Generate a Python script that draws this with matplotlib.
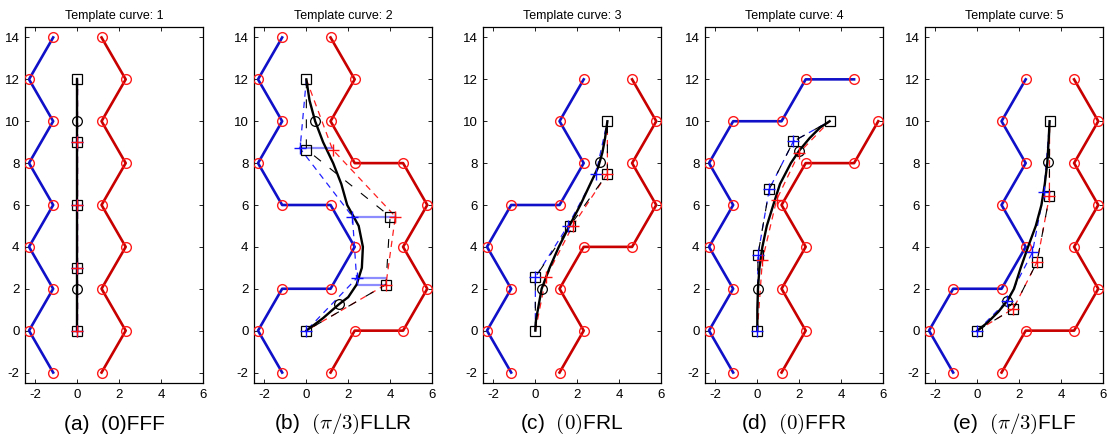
import matplotlib
matplotlib.use("Agg")
import matplotlib.pyplot as plt

plt.rcParams['font.family'] = ['Liberation Sans', 'DejaVu Sans']
plt.rcParams['mathtext.fontset'] = 'cm'
plt.rcParams['axes.unicode_minus'] = False

titles = ["Template curve: 1", "Template curve: 2", "Template curve: 3",
          "Template curve: 4", "Template curve: 5"]
captions = ["(a)  (0)FFF", r"(b)  $(\pi/3)$FLLR", r"(c)  $(0)$FRL",
            r"(d)  $(0)$FFR", r"(e)  $(\pi/3)$FLF"]
xticks = [-2, 0, 2, 4, 6]
yticks = [-2, 0, 2, 4, 6, 8, 10, 12, 14]

# ---- Panel 1 ----
blue1_x = [-1.155, -2.309, -1.155, -2.309, -1.155, -2.309, -1.155, -2.309, -1.155]
blue1_y = [14, 12, 10, 8, 6, 4, 2, 0, -2]
red1_x = [1.155, 2.309, 1.155, 2.309, 1.155, 2.309, 1.155, 2.309, 1.155]
red1_y = [14, 12, 10, 8, 6, 4, 2, 0, -2]
curve1_x = [0, 0, 0, 0, 0]
curve1_y = [0, 3, 6, 9, 12]
sq1_x = [0, 0, 0, 0, 0]
sq1_y = [0, 3, 6, 9, 12]
circ1_x = [0, 0]
circ1_y = [2, 10]
bplus1_x = [0, 0, 0, 0]
bplus1_y = [0, 3, 6, 9]
rplus1_x = [0, 0, 0, 0]
rplus1_y = [0, 3, 6, 9]
bdash1_x = [0, 0, 0, 0, 0]
bdash1_y = [0, 3, 6, 9, 12]
rdash1_x = [0, 0, 0, 0, 0]
rdash1_y = [0, 3, 6, 9, 12]

# ---- Panel 2 ----
blue2_x = [-1.155, -2.309, -1.155, -2.309, -1.155, 1.155, 2.309, 1.155, -1.155, -2.309, -1.155]
blue2_y = [14, 12, 10, 8, 6, 6, 4, 2, 2, 0, -2]
red2_x = [1.155, 2.309, 1.155, 2.309, 4.619, 5.774, 4.619, 5.774, 4.619, 2.309, 1.155]
red2_y = [14, 12, 10, 8, 8, 6, 4, 2, 0, 0, -2]
curve2_x = [0, 0.15, 0.42, 0.8, 1.28, 1.67, 1.95, 2.5, 2.7, 2.65, 2.4, 2.0, 1.57, 0.8, 0]
curve2_y = [12, 11, 10, 9, 8, 7, 6, 5, 4, 3, 2.2, 1.6, 1.27, 0.6, 0]
sq2_x = [0, 0, 4.0, 3.8, 0]
sq2_y = [12, 8.65, 5.45, 2.2, 0]
circ2_x = [0.42, 1.57]
circ2_y = [10, 1.27]
bplus2_x = [-0.3, 2.2, 2.4, 0]
bplus2_y = [8.7, 5.45, 2.5, 0]
rplus2_x = [1.25, 4.25, 3.8]
rplus2_y = [8.65, 5.45, 2.2]
bdash2_x = [0, -0.3, 2.2, 2.4, 0]
bdash2_y = [12, 8.7, 5.45, 2.5, 0]
rdash2_x = [0, 1.25, 4.25, 3.8, 0]
rdash2_y = [12, 8.65, 5.45, 2.2, 0]
hseg2_x0 = [-0.3, 2.2, 2.4, 2.4]
hseg2_x1 = [1.25, 4.25, 3.8, 3.8]
hseg2_y = [8.7, 5.45, 2.5, 2.2]

# ---- Panel 3 ----
blue3_x = [2.309, 1.155, 2.309, 1.155, -1.155, -2.309, -1.155, -2.309, -1.155]
blue3_y = [12, 10, 8, 6, 6, 4, 2, 0, -2]
red3_x = [4.619, 5.774, 4.619, 5.774, 4.619, 2.309, 1.155, 2.309, 1.155]
red3_y = [12, 10, 8, 6, 4, 4, 2, 0, -2]
curve3_x = [0, 0.03, 0.12, 0.3, 0.68, 1.12, 1.62, 2.15, 2.62, 3.0, 3.2, 3.33, 3.44]
curve3_y = [0, 0.5, 1.0, 2.0, 3.0, 4.0, 5.0, 6.0, 7.0, 7.8, 8.5, 9.2, 10]
sq3_x = [0, 0, 1.65, 3.44, 3.44]
sq3_y = [0, 2.55, 5.0, 7.5, 10]
circ3_x = [0.3, 3.08]
circ3_y = [2.0, 8.05]
bplus3_x = [0, 1.55, 2.89]
bplus3_y = [2.55, 5.0, 7.5]
rplus3_x = [0.51, 1.78, 3.44]
rplus3_y = [2.55, 5.0, 7.5]
bdash3_x = [0, 0, 1.55, 2.89, 3.44]
bdash3_y = [0, 2.55, 5.0, 7.5, 10]
rdash3_x = [0, 0.51, 1.78, 3.44, 3.44]
rdash3_y = [0, 2.55, 5.0, 7.5, 10]

# ---- Panel 4 ----
blue4_x = [4.619, 2.309, 1.155, -1.155, -2.309, -1.155, -2.309, -1.155, -2.309, -1.155]
blue4_y = [12, 12, 10, 10, 8, 6, 4, 2, 0, -2]
red4_x = [5.774, 4.619, 2.309, 1.155, 2.309, 1.155, 2.309, 1.155]
red4_y = [10, 8, 8, 6, 4, 2, 0, -2]
curve4_x = [0, 0, 0.03, 0.1, 0.24, 0.45, 0.76, 1.08, 1.6, 2.0, 2.5, 3.0, 3.45]
curve4_y = [0, 1, 2, 3, 4, 5, 6, 7, 8, 8.6, 9.2, 9.7, 10]
sq4_x = [0, 0.03, 0.57, 1.72, 3.45]
sq4_y = [0, 3.63, 6.76, 9.04, 10]
circ4_x = [0.03, 2.0]
circ4_y = [2.0, 8.6]
bplus4_x = [0, 0.03, 0.57, 1.72]
bplus4_y = [0, 3.63, 6.76, 9.04]
rplus4_x = [0.24, 0.92, 2.0]
rplus4_y = [3.36, 6.25, 8.5]
bdash4_x = [0, 0.03, 0.57, 1.72, 3.45]
bdash4_y = [0, 3.63, 6.76, 9.04, 10]
rdash4_x = [0, 0.24, 0.92, 2.0, 3.45]
rdash4_y = [0, 3.36, 6.25, 8.5, 10]

# ---- Panel 5 ----
blue5_x = [2.309, 1.155, 2.309, 1.155, 2.309, 1.155, -1.155, -2.309, -1.155]
blue5_y = [12, 10, 8, 6, 4, 2, 2, 0, -2]
red5_x = [4.619, 5.774, 4.619, 5.774, 4.619, 5.774, 4.619, 2.309, 1.155]
red5_y = [12, 10, 8, 6, 4, 2, 0, 0, -2]
curve5_x = [0, 0.5, 1.0, 1.45, 1.75, 2.07, 2.42, 2.79, 3.06, 3.22, 3.34, 3.4, 3.45]
curve5_y = [0, 0.4, 0.9, 1.45, 2, 3, 4, 5, 6, 7, 8, 9, 10]
sq5_x = [0, 1.72, 2.85, 3.44, 3.45]
sq5_y = [0, 1.05, 3.28, 6.41, 10]
circ5_x = [1.43, 3.37]
circ5_y = [1.43, 8.05]
bplus5_x = [0, 1.43, 2.63, 3.18]
bplus5_y = [0, 1.43, 3.74, 6.63]
rplus5_x = [1.72, 2.85, 3.44]
rplus5_y = [1.05, 3.28, 6.41]
bdash5_x = [0, 1.43, 2.63, 3.18, 3.45]
bdash5_y = [0, 1.43, 3.74, 6.63, 10]
rdash5_x = [0, 1.72, 2.85, 3.44, 3.45]
rdash5_y = [0, 1.05, 3.28, 6.41, 10]

panels = [
    (blue1_x, blue1_y, red1_x, red1_y, curve1_x, curve1_y, sq1_x, sq1_y, circ1_x, circ1_y,
     bplus1_x, bplus1_y, rplus1_x, rplus1_y, bdash1_x, bdash1_y, rdash1_x, rdash1_y),
    (blue2_x, blue2_y, red2_x, red2_y, curve2_x, curve2_y, sq2_x, sq2_y, circ2_x, circ2_y,
     bplus2_x, bplus2_y, rplus2_x, rplus2_y, bdash2_x, bdash2_y, rdash2_x, rdash2_y),
    (blue3_x, blue3_y, red3_x, red3_y, curve3_x, curve3_y, sq3_x, sq3_y, circ3_x, circ3_y,
     bplus3_x, bplus3_y, rplus3_x, rplus3_y, bdash3_x, bdash3_y, rdash3_x, rdash3_y),
    (blue4_x, blue4_y, red4_x, red4_y, curve4_x, curve4_y, sq4_x, sq4_y, circ4_x, circ4_y,
     bplus4_x, bplus4_y, rplus4_x, rplus4_y, bdash4_x, bdash4_y, rdash4_x, rdash4_y),
    (blue5_x, blue5_y, red5_x, red5_y, curve5_x, curve5_y, sq5_x, sq5_y, circ5_x, circ5_y,
     bplus5_x, bplus5_y, rplus5_x, rplus5_y, bdash5_x, bdash5_y, rdash5_x, rdash5_y),
]

W, H = 1109, 438
fig = plt.figure(figsize=(W / 100, H / 100), dpi=100)

lefts = [25, 254, 483, 705, 925]
ax_w, ax_top, ax_bot = 178, 27, 383

BLUE = '#1010c8'
RED = '#c80000'
CIRC = '#ff1a1a'

for i, p in enumerate(panels):
    (bx, by, rx, ry, cx, cy, sx, sy, ox, oy,
     bpx, bpy, rpx, rpy, bdx, bdy, rdx, rdy) = p
    ax = fig.add_axes([lefts[i] / W, 1 - ax_bot / H, ax_w / W, (ax_bot - ax_top) / H])
    ax.plot(bx, by, color=BLUE, lw=1.9, zorder=2)
    ax.plot(rx, ry, color=RED, lw=1.9, zorder=2)
    ax.plot(bx, by, 'o', ms=7, mfc='none', mec=CIRC, mew=1.0, zorder=3)
    ax.plot(rx, ry, 'o', ms=7, mfc='none', mec=CIRC, mew=1.0, zorder=3)
    if i == 1:
        for x0, x1, yy in zip(hseg2_x0, hseg2_x1, hseg2_y):
            ax.plot([x0, x1], [yy, yy], color='#8c8cff', lw=1.6, zorder=3)
    ax.plot(bdx, bdy, color='#2020ff', lw=0.9, dashes=(5, 4), zorder=4)
    ax.plot(rdx, rdy, color='#ff2020', lw=0.9, dashes=(5, 4), zorder=4)
    ax.plot(sx, sy, color='black', lw=0.8, dashes=(8, 10), zorder=4)
    ax.plot(cx, cy, color='black', lw=1.7, zorder=5)
    ax.plot(sx, sy, 's', ms=7, mfc='none', mec='black', mew=0.9, zorder=6)
    ax.plot(ox, oy, 'o', ms=7, mfc='none', mec='black', mew=0.9, zorder=6)
    ax.plot(bpx, bpy, '+', ms=9, mec='#1010ff', mew=1.0, zorder=7)
    ax.plot(rpx, rpy, '+', ms=9, mec='#ff1010', mew=1.0, zorder=7)
    ax.set_xlim(-2.5, 6)
    ax.set_ylim(-2.5, 14.5)
    ax.set_xticks(xticks)
    ax.set_yticks(yticks)
    ax.tick_params(direction='in', length=3, width=0.6, top=True, right=True,
                   labelsize=9.5, pad=4)
    for sp in ax.spines.values():
        sp.set_linewidth(0.9)
    ax.set_title(titles[i], fontsize=9, pad=6)
    fig.text((lefts[i] + ax_w / 2) / W, 1 - 424 / H, captions[i],
             ha='center', va='center', fontsize=15)

fig.savefig('out.png', dpi=100)
